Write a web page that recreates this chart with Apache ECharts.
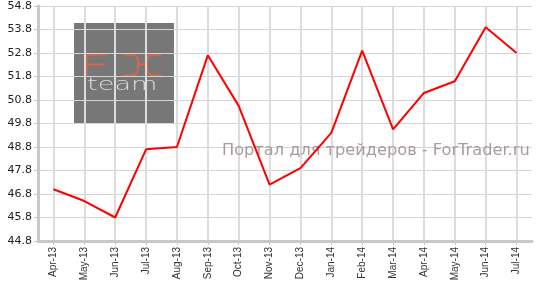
<!DOCTYPE html>
<html>
<head>
<meta charset="utf-8">
<script src="https://cdn.jsdelivr.net/npm/echarts@6/dist/echarts.min.js"></script>
<style>html,body{margin:0;padding:0;background:#fff;}#c{width:539px;height:288px;}</style>
</head>
<body>
<div id="c"></div>
<script>
var categories = ['Apr-13','May-13','Jun-13','Jul-13','Aug-13','Sep-13','Oct-13','Nov-13','Dec-13','Jan-14','Feb-14','Mar-14','Apr-14','May-14','Jun-14','Jul-14'];
var values = [47.0, 46.5, 45.8, 48.7, 48.8, 52.7, 50.55, 47.2, 47.9, 49.4, 52.9, 49.55, 51.1, 51.6, 53.9, 52.8];
var yMin = 44.8, yMax = 54.8, yStep = 1;
var watermark = 'Портал для трейдеров - ForTrader.ru';

var logoStroke = {fill: 'none', stroke: '#d9654e', lineWidth: 2};
var chart = echarts.init(document.getElementById('c'), null, {renderer: 'canvas'});
chart.setOption({
  animation: false,
  backgroundColor: '#ffffff',
  grid: {left: 38, right: 7, top: 6, bottom: 47, containLabel: false},
  title: {
    text: watermark, left: 222, top: 143, padding: 0, z: 6,
    textStyle: {fontFamily: '"DejaVu Sans"', fontSize: 16.2, fontWeight: 'normal', color: '#a89d9d'}
  },
  graphic: [
    {type: 'rect', shape: {x: 74, y: 23, width: 100, height: 100}, style: {fill: '#777777'}},
    {type: 'polyline', shape: {points: [[107,54.5],[90,54.5],[87.5,55.5],[86.5,58],[86.5,75.5]]}, style: logoStroke},
    {type: 'line', shape: {x1: 86.5, y1: 64.5, x2: 105, y2: 64.5}, style: logoStroke},
    {type: 'polyline', shape: {points: [[123,54.5],[131,54.5],[135.5,55.5],[137.5,58],[138,61],[138,68],[137.5,71.5],[135.5,74.5],[131,75.5],[123,75.5]]}, style: logoStroke},
    {type: 'polyline', shape: {points: [[162,54.5],[154,54.5],[149.5,55.5],[147.5,58],[147,61],[147,68],[147.5,71.5],[149.5,74.5],[154,75.5],[162,75.5]]}, style: logoStroke},
    {type: 'line', shape: {x1: 138, y1: 64.5, x2: 147, y2: 64.5}, style: logoStroke},
    {type: 'text', x: 87, y: 77, scaleX: 1.6, style: {text: 'team', font: '200 17px "DejaVu Sans"', fill: '#dadada'}}
  ],
  xAxis: {
    type: 'category',
    data: categories,
    boundaryGap: true,
    z: 5,
    axisLine: {show: true, lineStyle: {color: '#c8c8c8', width: 3}},
    axisTick: {show: true, alignWithLabel: true, length: 4, lineStyle: {color: '#c8c8c8', width: 1}},
    axisLabel: {rotate: 90, fontFamily: '"Liberation Sans", Arial', fontSize: 10, color: '#333', margin: 6},
    splitLine: {show: true, alignWithLabel: true, lineStyle: {color: '#dcdcdc', width: 2}}
  },
  yAxis: {
    type: 'value',
    min: yMin, max: yMax, interval: yStep,
    z: 5,
    axisLine: {show: true, lineStyle: {color: '#c8c8c8', width: 3}},
    axisTick: {show: true, length: 4, lineStyle: {color: '#c8c8c8', width: 1}},
    axisLabel: {fontFamily: '"DejaVu Sans", Verdana', fontSize: 11, color: '#222', margin: 6, formatter: function(v){ return v.toFixed(1); }},
    splitLine: {show: true, lineStyle: {color: '#d4d4d4', width: 1}}
  },
  series: [{
    type: 'line',
    data: values,
    symbol: 'none',
    z: 10,
    lineStyle: {color: '#ff0000', width: 2}
  }]
});
</script>
</body>
</html>
